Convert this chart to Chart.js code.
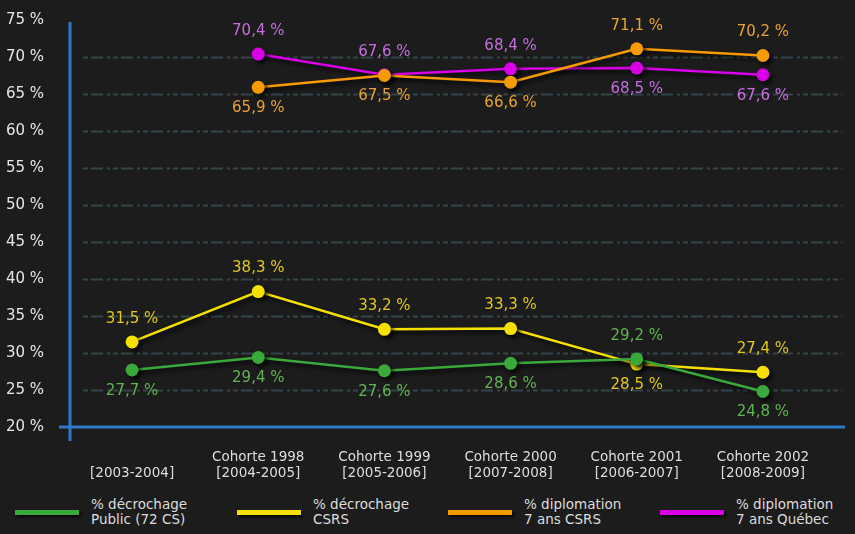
<!DOCTYPE html>
<html>
<head>
<meta charset="utf-8">
<script src="https://cdn.jsdelivr.net/npm/chart.js@4"></script>
<style>
  body { margin: 0; background: #1c1c1c; width: 855px; height: 534px; overflow: hidden; font-family: "DejaVu Sans", sans-serif; }
  #wrap { position: absolute; left: 0; top: -6px; width: 855px; height: 486px; }
  #legend { position: absolute; left: 0; top: 497px; width: 855px; height: 34px; color: #dcdcdc; font-size: 13.5px; line-height: 15px; }
  .item { position: absolute; top: 0; }
  .sw { position: absolute; top: 13px; width: 64px; height: 5px; box-shadow: 2px 2px 3px rgba(0,0,0,0.8); }
  .tx { position: absolute; left: 76px; top: 0; white-space: nowrap; }
</style>
</head>
<body>
<div id="wrap"><canvas id="chart" width="855" height="486"></canvas></div>
<div id="legend"></div>
<script>
// Catégories (deux lignes chacune)
const categories = [
    ['', '[2003-2004]'],
    ['Cohorte 1998', '[2004-2005]'],
    ['Cohorte 1999', '[2005-2006]'],
    ['Cohorte 2000', '[2007-2008]'],
    ['Cohorte 2001', '[2006-2007]'],
    ['Cohorte 2002', '[2008-2009]']
];

// Séries
const decrochagePublic = [27.7, 29.4, 27.6, 28.6, 29.2, 24.8];
const decrochageCSRS = [31.5, 38.3, 33.2, 33.3, 28.5, 27.4];
const diplomationCSRS = [null, 65.9, 67.5, 66.6, 71.1, 70.2];
const diplomationQuebec = [null, 70.4, 67.6, 68.4, 68.5, 67.6];

// Position des étiquettes (au-dessus / en dessous)
const placePublic = ['below', 'below', 'below', 'below', 'above', 'below'];
const placeCSRS = ['above', 'above', 'above', 'above', 'below', 'above'];
const placeDiplCSRS = [null, 'below', 'below', 'below', 'above', 'above'];
const placeDiplQc = [null, 'above', 'above', 'above', 'below', 'below'];

const series = [
    { name: ['% décrochage', 'Public (72 CS)'], data: decrochagePublic, place: placePublic, color: '#3aa83a', text: '#62b452', swX: 15 },
    { name: ['% décrochage', 'CSRS'], data: decrochageCSRS, place: placeCSRS, color: '#f6e000', text: '#e2c81c', swX: 237 },
    { name: ['% diplomation', '7 ans CSRS'], data: diplomationCSRS, place: placeDiplCSRS, color: '#f59a00', text: '#e9a233', swX: 448 },
    { name: ['% diplomation', '7 ans Québec'], data: diplomationQuebec, place: placeDiplQc, color: '#d800e6', text: '#c46ee0', swX: 660 }
];

// Lignes de craie (grille) et axes
const chalkPlugin = {
    id: 'chalk',
    beforeDatasetsDraw(chart) {
        const c = chart.ctx;
        const y = chart.scales.y;
        const area = chart.chartArea;
        c.save();
        c.lineWidth = 2;
        c.setLineDash([5, 3, 12, 4, 3, 3]);
        c.strokeStyle = 'rgba(100,155,170,0.33)';
        y.ticks.forEach(t => {
            if (t.value <= 20 || t.value >= 75) return;
            const py = Math.round(y.getPixelForValue(t.value)) + 0.5;
            c.beginPath();
            c.moveTo(area.left + 14, py);
            c.lineTo(842, py);
            c.stroke();
        });
        c.setLineDash([]);
        c.strokeStyle = '#2f78c8';
        c.lineWidth = 3;
        c.beginPath();
        c.moveTo(area.left + 1, area.top + 2);
        c.lineTo(area.left + 1, area.bottom + 14);
        c.stroke();
        c.beginPath();
        c.moveTo(area.left - 10, area.bottom);
        c.lineTo(845, area.bottom);
        c.stroke();
        c.restore();
        c.save();
        c.shadowColor = 'rgba(0,0,0,0.85)';
        c.shadowOffsetX = 3;
        c.shadowOffsetY = 3;
        c.shadowBlur = 4;
    },
    afterDatasetsDraw(chart) {
        const c = chart.ctx;
        c.restore();
        c.save();
        c.font = '15px "DejaVu Sans"';
        c.textAlign = 'center';
        c.textBaseline = 'middle';
        chart.data.datasets.forEach((ds, i) => {
            const meta = chart.getDatasetMeta(i);
            meta.data.forEach((pt, j) => {
                const v = ds.data[j];
                if (v == null) return;
                const up = series[i].place[j] === 'above';
                c.fillStyle = series[i].text;
                c.fillText(v.toFixed(1).replace('.', ',') + ' %', pt.x, pt.y + (up ? -23 : 21));
            });
        });
        c.restore();
    }
};

new Chart(document.getElementById('chart'), {
    type: 'line',
    data: {
        labels: categories,
        datasets: series.map(s => ({
            label: s.name.join(' '),
            data: s.data,
            borderColor: s.color,
            backgroundColor: s.color,
            pointBackgroundColor: s.color,
            pointBorderWidth: 0,
            borderWidth: 2.5,
            pointRadius: 6.5,
            tension: 0,
            spanGaps: false
        }))
    },
    options: {
        responsive: false,
        animation: false,
        layout: { padding: { top: 12, right: 29, left: 0, bottom: 0 } },
        plugins: {
            legend: { display: false },
            tooltip: { enabled: false }
        },
        scales: {
            x: {
                offset: true,
                grid: { display: false },
                border: { display: false },
                ticks: {
                    color: '#dedede',
                    font: { family: 'DejaVu Sans', size: 13.5 },
                    padding: 14,
                    maxRotation: 0,
                    autoSkip: false
                },
                afterFit(scale) { scale.height = 53; }
            },
            y: {
                min: 20,
                max: 75,
                grid: { display: false },
                border: { display: false },
                ticks: {
                    stepSize: 5,
                    color: '#e6e6e6',
                    font: { family: 'DejaVu Sans', size: 15 },
                    padding: 17,
                    callback: v => v + ' %'
                },
                afterFit(scale) { scale.width = 69; }
            }
        }
    },
    plugins: [chalkPlugin]
});

// Légende HTML
const legend = document.getElementById('legend');
series.forEach(s => {
    const item = document.createElement('div');
    item.className = 'item';
    item.style.left = s.swX + 'px';
    item.innerHTML = `<div class="sw" style="background:${s.color}"></div><div class="tx">${s.name[0]}<br>${s.name[1]}</div>`;
    legend.appendChild(item);
});
</script>
</body>
</html>
